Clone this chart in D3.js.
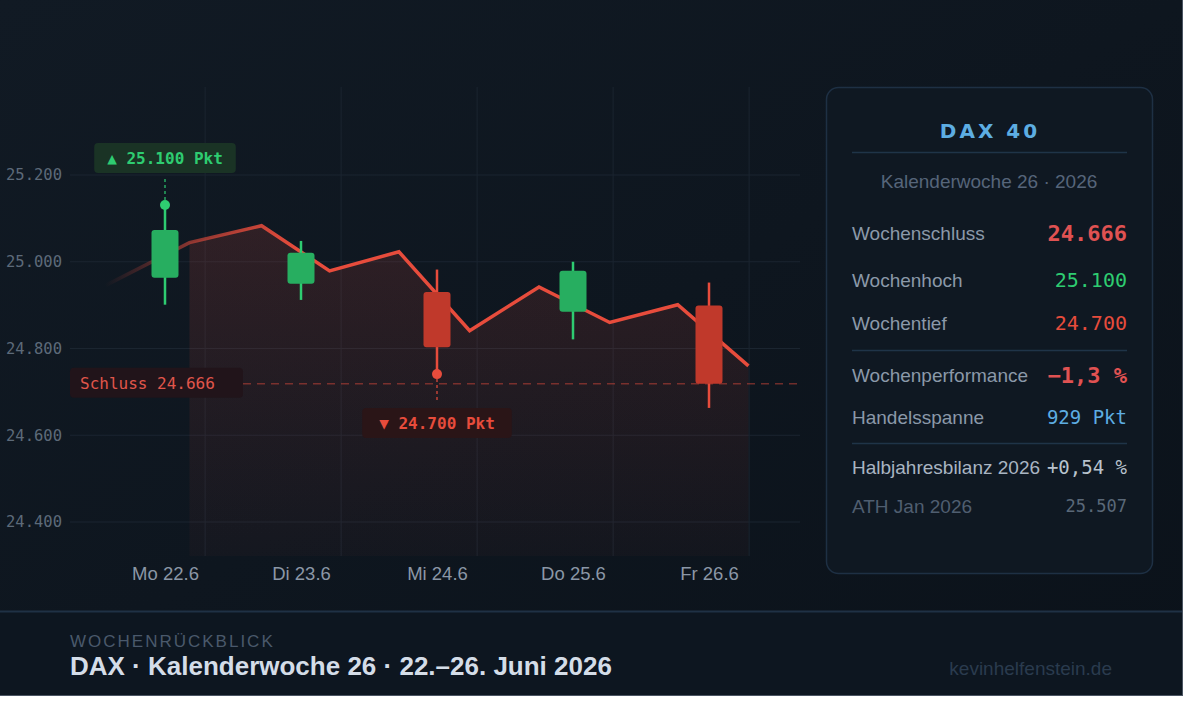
<!DOCTYPE html>
<html>
<head>
<meta charset="utf-8">
<script src="https://cdn.jsdelivr.net/npm/d3@7"></script>
<style>
  body { margin: 0; background: #ffffff; }
  svg { display: block; }
</style>
</head>
<body>
<div id="chart"></div>
<script>
// Wochendaten
const days = ["Mo 22.6", "Di 23.6", "Mi 24.6", "Do 25.6", "Fr 26.6"];
const dayOpen = [24963, 24949, 24930, 24885, 24899];
const dayClose = [25073, 25021, 24803, 24979, 24719];
const dayHigh = [25131, 25048, 24982, 25000, 24952];
const dayLow = [24901, 24912, 24741, 24821, 24663];

// Intraday-Verlauf (Position in Tagen, Punktestand)
const linePos = [-0.44, 0.18, 0.71, 1.21, 1.72, 2.24, 2.75, 3.27, 3.77, 4.29];
const lineVals = [24945, 25044, 25083, 24979, 25023, 24841, 24942, 24860, 24901, 24760];

const yTicks = [24400, 24600, 24800, 25000, 25200];

const panelLabels = ["Wochenschluss", "Wochenhoch", "Wochentief", "Wochenperformance", "Handelsspanne", "Halbjahresbilanz 2026", "ATH Jan 2026"];
const panelValues = ["24.666", "25.100", "24.700", "\u22121,3 %", "929 Pkt", "+0,54 %", "25.507"];

const width = 1200;
const height = 713;
const mono = "'DejaVu Sans Mono', monospace";
const sans = "'Liberation Sans', Arial, sans-serif";

const de = d3.formatLocale({ decimal: ",", thousands: ".", grouping: [3], currency: ["", " €"] });
const fmt = de.format(",.0f");

const svg = d3.select("#chart").append("svg")
    .attr("width", width)
    .attr("height", height);

const defs = svg.append("defs");

const bg = defs.append("linearGradient").attr("id", "bg")
    .attr("x1", 0).attr("y1", 0).attr("x2", 1).attr("y2", 1);
bg.append("stop").attr("offset", 0).attr("stop-color", "#111a24");
bg.append("stop").attr("offset", 1).attr("stop-color", "#0b121a");

const areaGrad = defs.append("linearGradient").attr("id", "areaGrad")
    .attr("x1", 0).attr("y1", 0).attr("x2", 0).attr("y2", 1);
areaGrad.append("stop").attr("offset", 0).attr("stop-color", "#e74c3c").attr("stop-opacity", 0.15);
areaGrad.append("stop").attr("offset", 1).attr("stop-color", "#e74c3c").attr("stop-opacity", 0.03);

// Hintergrund
svg.append("rect")
    .attr("x", -1).attr("y", -1)
    .attr("width", 1183.5).attr("height", 696.5)
    .attr("fill", "url(#bg)")
    .attr("stroke", "#4a5462")
    .attr("stroke-width", 1);

// Fußzeile
svg.append("rect")
    .attr("x", 0).attr("y", 612)
    .attr("width", 1182).attr("height", 83)
    .attr("fill", "#0d1620");
svg.append("line")
    .attr("x1", 0).attr("x2", 1182)
    .attr("y1", 611.5).attr("y2", 611.5)
    .attr("stroke", "#1f3145")
    .attr("stroke-width", 2);

// Skalen
const x = d3.scaleLinear().domain([0, 4]).range([165, 709]);
const y = d3.scaleLinear().domain([24400, 25200]).range([522, 175]);

// Raster
svg.append("g").selectAll("line")
    .data(yTicks)
    .join("line")
    .attr("x1", 70).attr("x2", 800)
    .attr("y1", d => y(d)).attr("y2", d => y(d))
    .attr("stroke", "#1b2530")
    .attr("stroke-width", 1);

svg.append("g").selectAll("line")
    .data(days)
    .join("line")
    .attr("x1", (d, i) => x(i + 0.295)).attr("x2", (d, i) => x(i + 0.295))
    .attr("y1", 87).attr("y2", 556)
    .attr("stroke", "#1b2530")
    .attr("stroke-width", 1);

// Y-Achse
const yAxis = svg.append("g")
    .attr("transform", "translate(62,0)")
    .call(d3.axisLeft(y).tickValues(yTicks).tickFormat(fmt).tickSize(0).tickPadding(0));
yAxis.select(".domain").remove();
yAxis.selectAll("text")
    .attr("fill", "#5d6a79")
    .attr("font-family", mono)
    .attr("font-size", 15.5);

// X-Achse
const xAxis = svg.append("g")
    .attr("transform", "translate(0,567)")
    .call(d3.axisBottom(x).tickValues(d3.range(days.length)).tickFormat(i => days[i]).tickSize(0).tickPadding(0));
xAxis.select(".domain").remove();
xAxis.selectAll("text")
    .attr("fill", "#8b97a6")
    .attr("font-family", sans)
    .attr("font-size", 18.5);

// Fläche unter dem Verlauf
const pts = linePos.map((p, i) => [x(p), y(lineVals[i])]);
const area = d3.area()
    .x(d => d[0])
    .y0(556)
    .y1(d => d[1]);
svg.append("path")
    .datum(pts.slice(1))
    .attr("d", area)
    .attr("fill", "url(#areaGrad)");

// Linie mit Einblendung links
const lineGrad = defs.append("linearGradient").attr("id", "lineGrad")
    .attr("gradientUnits", "userSpaceOnUse")
    .attr("x1", pts[0][0]).attr("y1", 0)
    .attr("x2", pts[pts.length - 1][0]).attr("y2", 0);
lineGrad.append("stop").attr("offset", 0).attr("stop-color", "#e74c3c").attr("stop-opacity", 0);
lineGrad.append("stop").attr("offset", 0.13).attr("stop-color", "#e74c3c").attr("stop-opacity", 0.55);
lineGrad.append("stop").attr("offset", 0.3).attr("stop-color", "#e74c3c").attr("stop-opacity", 1);
lineGrad.append("stop").attr("offset", 1).attr("stop-color", "#e74c3c").attr("stop-opacity", 1);

svg.append("path")
    .datum(pts)
    .attr("d", d3.line())
    .attr("fill", "none")
    .attr("stroke", "url(#lineGrad)")
    .attr("stroke-width", 3.5)
    .attr("stroke-linejoin", "miter");

// Schlusslinie
const closeY = y(dayClose[4]);
svg.append("line")
    .attr("x1", 243).attr("x2", 800)
    .attr("y1", closeY).attr("y2", closeY)
    .attr("stroke", "#e74c3c")
    .attr("stroke-opacity", 0.45)
    .attr("stroke-width", 1.5)
    .attr("stroke-dasharray", "8,6");

svg.append("rect")
    .attr("x", 70).attr("y", closeY - 16)
    .attr("width", 173).attr("height", 30)
    .attr("rx", 4)
    .attr("fill", "#21141a");
svg.append("text")
    .attr("x", 80).attr("y", closeY)
    .attr("dy", "0.35em")
    .attr("fill", "#e0564b")
    .attr("font-family", mono)
    .attr("font-size", 16)
    .text("Schluss 24.666");

// Kerzen
const candles = svg.append("g").selectAll("g")
    .data(days.map((d, i) => ({ i, o: dayOpen[i], c: dayClose[i], h: dayHigh[i], l: dayLow[i] })))
    .join("g");

candles.append("line")
    .attr("x1", d => x(d.i)).attr("x2", d => x(d.i))
    .attr("y1", d => y(d.h)).attr("y2", d => y(d.l))
    .attr("stroke", d => d.c >= d.o ? "#2ecc71" : "#e74c3c")
    .attr("stroke-width", 2.5);

candles.append("rect")
    .attr("x", d => x(d.i) - 13.5)
    .attr("y", d => y(Math.max(d.o, d.c)))
    .attr("width", 27)
    .attr("height", d => Math.abs(y(d.o) - y(d.c)))
    .attr("rx", 3)
    .attr("fill", d => d.c >= d.o ? "#27ae60" : "#c0392b");

// Hoch / Tief Markierungen
function marker(i, value, up, label, pad) {
    const cx = x(i);
    const cy = y(value);
    const col = up ? "#2ecc71" : "#e74c3c";
    const boxY = up ? 143 : 408;
    svg.append("line")
        .attr("x1", cx).attr("x2", cx)
        .attr("y1", up ? cy - 5 : cy + 5)
        .attr("y2", up ? boxY + 34 : boxY - 6)
        .attr("stroke", col)
        .attr("stroke-width", 1.2)
        .attr("stroke-dasharray", "3,3");
    svg.append("circle")
        .attr("cx", cx).attr("cy", cy)
        .attr("r", 5)
        .attr("fill", col);
    const g = svg.append("g");
    const box = g.append("rect")
        .attr("y", boxY)
        .attr("height", 30)
        .attr("rx", 4)
        .attr("fill", up ? "#1a3325" : "#2a1517");
    const t = g.append("text")
        .attr("x", cx).attr("y", boxY + 15)
        .attr("dy", "0.35em")
        .attr("text-anchor", "middle")
        .attr("fill", col)
        .attr("font-family", mono)
        .attr("font-weight", "bold")
        .attr("font-size", 16)
        .text(label);
    const w = t.node().getComputedTextLength() + pad;
    box.attr("x", cx - w / 2).attr("width", w);
}
marker(0, dayHigh[0], true, "\u25B2 25.100 Pkt", 26);
marker(2, dayLow[2], false, "\u25BC 24.700 Pkt", 34);

// Info-Panel
const panel = svg.append("g");
panel.append("rect")
    .attr("x", 826.5).attr("y", 87.5)
    .attr("width", 326).attr("height", 486)
    .attr("rx", 12)
    .attr("fill", "#0f1822")
    .attr("stroke", "#1e3044")
    .attr("stroke-width", 1.5);

panel.append("text")
    .attr("x", 990).attr("y", 131)
    .attr("dy", "0.35em")
    .attr("text-anchor", "middle")
    .attr("fill", "#5dade2")
    .attr("font-family", "'DejaVu Sans', sans-serif")
    .attr("font-weight", "bold")
    .attr("font-size", 20)
    .attr("letter-spacing", 3)
    .text("DAX 40");

panel.selectAll("line.sep")
    .data([152.5, 350.5, 443.5])
    .join("line")
    .attr("class", "sep")
    .attr("x1", 852).attr("x2", 1127)
    .attr("y1", d => d).attr("y2", d => d)
    .attr("stroke", "#1f3448")
    .attr("stroke-width", 1.5);

panel.append("text")
    .attr("x", 989).attr("y", 181.5)
    .attr("dy", "0.35em")
    .attr("text-anchor", "middle")
    .attr("fill", "#56657a")
    .attr("font-family", sans)
    .attr("font-size", 19)
    .text("Kalenderwoche 26 \u00B7 2026");

const rowY = [233, 280, 323, 375.5, 417.5, 467, 506];
const labelColor = ["#8b99a9", "#8b99a9", "#8b99a9", "#8b99a9", "#8b99a9", "#a9b5c2", "#4f5e70"];
const valueColor = ["#e05252", "#2ecc71", "#e74c3c", "#e05252", "#5dade2", "#b9c3ce", "#5a6878"];
const valueBold = [true, false, false, true, false, false, false];
const valueSize = [22, 20, 20, 22, 19, 19, 17];

panel.selectAll("text.lab")
    .data(panelLabels)
    .join("text")
    .attr("class", "lab")
    .attr("x", 852)
    .attr("y", (d, i) => rowY[i])
    .attr("dy", "0.35em")
    .attr("fill", (d, i) => labelColor[i])
    .attr("font-family", sans)
    .attr("font-size", 19)
    .text(d => d);

panel.selectAll("text.val")
    .data(panelValues)
    .join("text")
    .attr("class", "val")
    .attr("x", 1127)
    .attr("y", (d, i) => rowY[i])
    .attr("dy", "0.35em")
    .attr("text-anchor", "end")
    .attr("fill", (d, i) => valueColor[i])
    .attr("font-family", mono)
    .attr("font-weight", (d, i) => valueBold[i] ? "bold" : "normal")
    .attr("font-size", (d, i) => valueSize[i])
    .text(d => d);

// Fußzeilentexte
svg.append("text")
    .attr("x", 70).attr("y", 641)
    .attr("dy", "0.35em")
    .attr("fill", "#4a596b")
    .attr("font-family", sans)
    .attr("font-size", 17)
    .attr("letter-spacing", 2)
    .text("WOCHENR\u00DCCKBLICK");

svg.append("text")
    .attr("x", 70).attr("y", 666)
    .attr("dy", "0.35em")
    .attr("fill", "#d4dde8")
    .attr("font-family", sans)
    .attr("font-weight", "bold")
    .attr("font-size", 26)
    .text("DAX \u00B7 Kalenderwoche 26 \u00B7 22.\u201326. Juni 2026");

svg.append("text")
    .attr("x", 1112).attr("y", 668)
    .attr("dy", "0.35em")
    .attr("text-anchor", "end")
    .attr("fill", "#2a3b4e")
    .attr("font-family", sans)
    .attr("font-size", 19)
    .text("kevinhelfenstein.de");
</script>
</body>
</html>
